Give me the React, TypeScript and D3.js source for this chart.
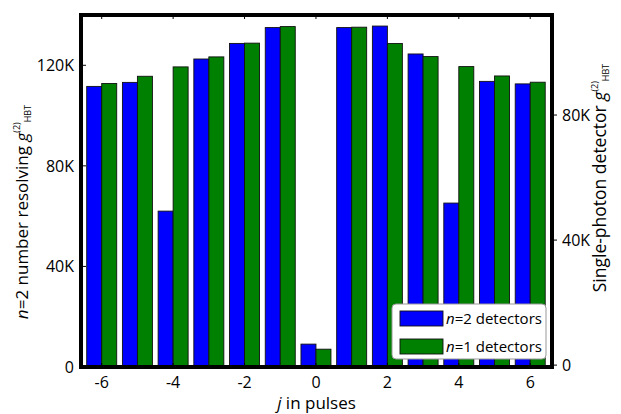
import React from "react";
import * as d3 from "d3";

const pulses = [-6, -5, -4, -3, -2, -1, 0, 1, 2, 3, 4, 5, 6];
const n2Values = [111.6, 113.2, 62.0, 122.5, 128.7, 135.0, 9.1, 135.0, 135.6, 124.5, 65.2, 113.6, 112.6]; // thousands, left axis
const n1Values = [90.1, 92.4, 95.4, 98.6, 103.0, 108.3, 5.1, 108.1, 102.9, 98.7, 95.5, 92.5, 90.5]; // thousands, right axis
const xTicks = [-6, -4, -2, 0, 2, 4, 6];
const leftTicks = [0, 40, 80, 120];
const rightTicks = [0, 40, 80];

const W = 621;
const H = 414;
const L = 81, R = 552, T = 15, B = 367;
const FONT = "'Open Sans', 'Noto Sans', sans-serif";
const BLUE = "#0000ff";
const GREEN = "#008000";

export default function App() {
  const x = d3.scaleLinear().domain([-6.58, 6.61]).range([L, R]);
  const yL = d3.scaleLinear().domain([0, 140]).range([B, T]);
  const yR = d3.scaleLinear().domain([-0.6, 112]).range([B, T]);
  const bw = 0.42;
  const fmt = (v: number) => (v === 0 ? "0" : `${v}K`);

  return (
    <svg width={W} height={H} style={{ position: "absolute", left: 0, top: 0, background: "#fff" }} fontFamily={FONT}>
      {/* bars */}
      {pulses.map((p, i) => (
        <g key={p}>
          <rect
            x={x(p - bw)}
            y={yL(n2Values[i])}
            width={x(p) - x(p - bw)}
            height={B - yL(n2Values[i])}
            fill={BLUE}
            stroke="#111"
            strokeWidth={0.9}
          />
          <rect
            x={x(p)}
            y={yR(n1Values[i])}
            width={x(p + bw) - x(p)}
            height={B - yR(n1Values[i])}
            fill={GREEN}
            stroke="#111"
            strokeWidth={0.9}
          />
        </g>
      ))}
      {/* frame */}
      <rect x={L} y={T} width={R - L} height={B - T} fill="none" stroke="#000" strokeWidth={4} />
      {/* x ticks */}
      {xTicks.map((t) => (
        <g key={t}>
          <line x1={x(t)} x2={x(t)} y1={T} y2={T + 4} stroke="#000" strokeWidth={1} />
          <line x1={x(t)} x2={x(t)} y1={B} y2={B - 4} stroke="#000" strokeWidth={1} />
          <text x={x(t)} y={388} textAnchor="middle" fontSize={16} fill="#000">
            {t < 0 ? `-${Math.abs(t)}` : `${t}`}
          </text>
        </g>
      ))}
      {/* left ticks */}
      {leftTicks.map((t) => (
        <g key={t}>
          <line x1={L} x2={L + 5} y1={yL(t)} y2={yL(t)} stroke="#000" strokeWidth={1} />
          <text x={74} y={yL(t) + 6} textAnchor="end" fontSize={16} fill="#000">
            {fmt(t)}
          </text>
        </g>
      ))}
      {/* right ticks */}
      {rightTicks.map((t) => (
        <g key={t}>
          <line x1={R} x2={R + 5} y1={yR(t)} y2={yR(t)} stroke="#000" strokeWidth={1} />
          <text x={562} y={yR(t) + 6} textAnchor="start" fontSize={16} fill="#000">
            {fmt(t)}
          </text>
        </g>
      ))}
      {/* x label */}
      <text x={(L + R) / 2} y={409} textAnchor="middle" fontSize={17} fill="#000">
        <tspan fontStyle="italic">j</tspan> in pulses
      </text>
      {/* left label */}
      <text transform={`translate(28, 212) rotate(-90)`} textAnchor="middle" fontSize={17} fill="#000">
        <tspan fontStyle="italic">n</tspan>=2 number resolving <tspan fontStyle="italic">g</tspan>
        <tspan fontSize={9} dy={-8}>(2)</tspan>
        <tspan fontSize={9} dy={11}>HBT</tspan>
      </text>
      {/* right label */}
      <text transform={`translate(606, 178) rotate(-90)`} textAnchor="middle" fontSize={17.5} fill="#000">
        Single-photon detector <tspan fontStyle="italic">g</tspan>
        <tspan fontSize={9} dy={-8}>(2)</tspan>
        <tspan fontSize={9} dy={11}>HBT</tspan>
      </text>
      {/* legend */}
      <g>
        <rect x={392} y={304} width={154} height={55} rx={4} fill="#fff" stroke="#999" strokeWidth={1} />
        <rect x={400} y={311} width={43} height={15} fill={BLUE} stroke="#111" strokeWidth={0.9} />
        <rect x={400} y={339} width={43} height={15} fill={GREEN} stroke="#111" strokeWidth={0.9} />
        <text x={446} y={324} fontSize={15} fill="#000">
          <tspan fontStyle="italic">n</tspan>=2 detectors
        </text>
        <text x={446} y={352} fontSize={15} fill="#000">
          <tspan fontStyle="italic">n</tspan>=1 detectors
        </text>
      </g>
    </svg>
  );
}
